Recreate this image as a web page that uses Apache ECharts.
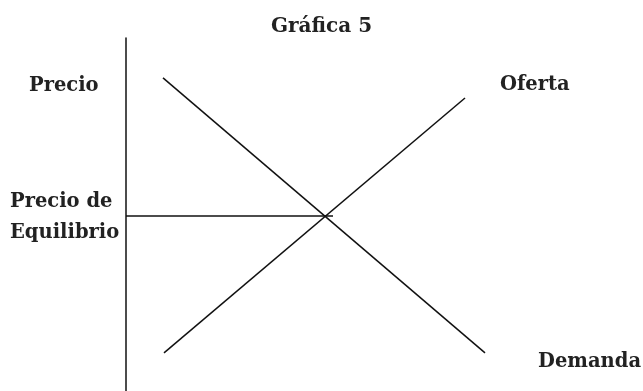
<!DOCTYPE html>
<html>
<head>
<meta charset="utf-8">
<script src="https://cdn.jsdelivr.net/npm/echarts@6/dist/echarts.min.js"></script>
<style>
  html, body { margin: 0; padding: 0; background: #fff; }
  #chart { width: 643px; height: 391px; }
</style>
</head>
<body>
<div id="chart"></div>
<script>
  // curvas de oferta y demanda (cantidad, precio) en unidades 0-100
  const demandaX = [7.4, 71.8];
  const demandaY = [88.7, 10.8];
  const ofertaX = [7.6, 67.8];
  const ofertaY = [10.8, 83.0];
  // precio de equilibrio: linea horizontal desde el eje
  const equilibrioX = [0, 41.4];
  const equilibrioY = [49.6, 49.6];

  const pares = (xs, ys) => xs.map((x, i) => [x, ys[i]]);

  const font = 'bold 19.5px "DejaVu Serif"';
  const lineStyle = { color: '#111', width: 1.5 };

  let myChart = echarts.init(document.getElementById('chart'));
  let options = {
    animation: false,
    backgroundColor: '#fff',
    title: {
      text: 'Gráfica 5',
      left: 'center',
      top: 12,
      textStyle: { fontFamily: 'DejaVu Serif', fontWeight: 'bold', fontSize: 20, color: '#222' }
    },
    grid: { left: 126, top: 38, width: 500, height: 353 },
    xAxis: {
      type: 'value', min: 0, max: 100, show: false
    },
    yAxis: {
      type: 'value', min: 0, max: 100,
      axisLine: { show: true, lineStyle: { color: '#111', width: 1.5 } },
      axisTick: { show: false },
      axisLabel: { show: false },
      splitLine: { show: false }
    },
    graphic: [
      { type: 'text', left: 29, top: 76, style: { text: 'Precio', font: font, fill: '#222' } },
      { type: 'text', left: 500, top: 75, style: { text: 'Oferta', font: font, fill: '#222' } },
      { type: 'text', left: 10, top: 186, style: { text: 'Precio de\nEquilibrio', font: font, fill: '#222', lineHeight: 31 } },
      { type: 'text', left: 538, top: 352, style: { text: 'Demanda', font: font, fill: '#222' } }
    ],
    series: [
      { name: 'Demanda', type: 'line', data: pares(demandaX, demandaY), showSymbol: false, lineStyle: lineStyle },
      { name: 'Oferta', type: 'line', data: pares(ofertaX, ofertaY), showSymbol: false, lineStyle: lineStyle },
      { name: 'Equilibrio', type: 'line', data: pares(equilibrioX, equilibrioY), showSymbol: false, lineStyle: lineStyle }
    ]
  };
  myChart.setOption(options);
  window.addEventListener('resize', () => {
    myChart.resize();
  });
</script>
</body>
</html>
